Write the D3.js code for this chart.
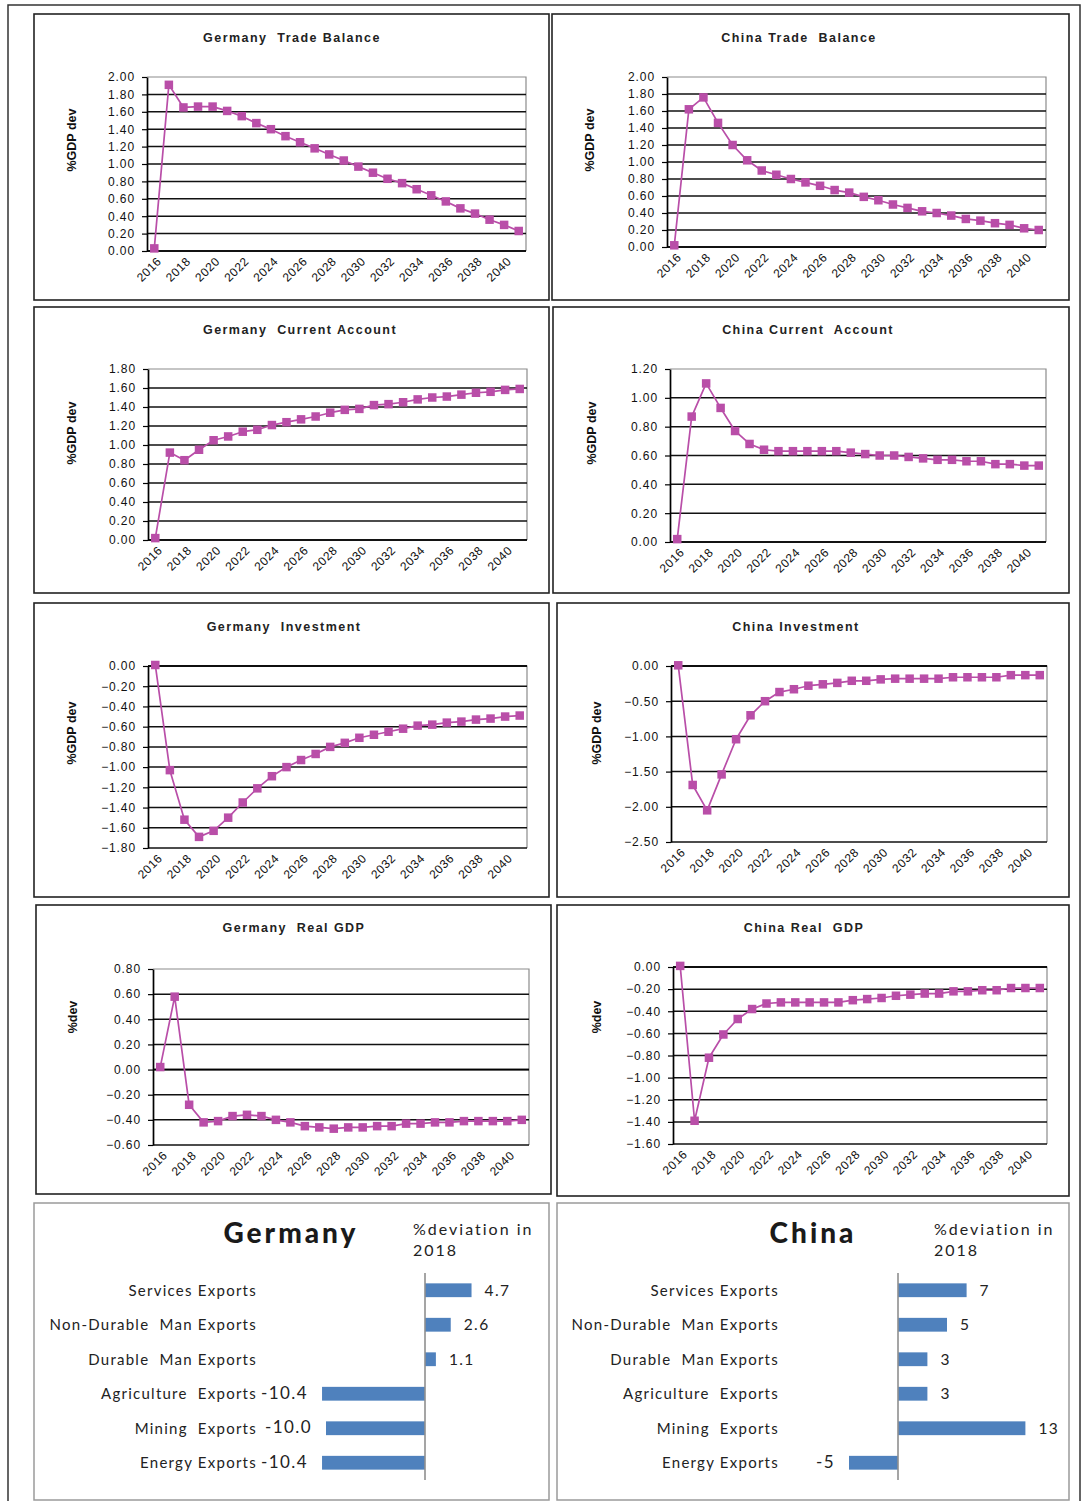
<!DOCTYPE html>
<html>
<head>
<meta charset="utf-8">
<script src="https://cdn.jsdelivr.net/npm/d3@7/dist/d3.min.js"></script>
<style>
  body { margin: 0; background: #fff; }
  svg { display: block; }
</style>
</head>
<body>
<svg id="fig" width="1083" height="1501"></svg>
<script>
// ---- categories ----
const years = [2016, 2017, 2018, 2019, 2020, 2021, 2022, 2023, 2024, 2025, 2026, 2027, 2028,
               2029, 2030, 2031, 2032, 2033, 2034, 2035, 2036, 2037, 2038, 2039, 2040, 2041];
const yearLabels = [2016, 2018, 2020, 2022, 2024, 2026, 2028, 2030, 2032, 2034, 2036, 2038, 2040];

// ---- series (deviation from baseline) ----
const deTradeBalance = [0.03, 1.91, 1.65, 1.66, 1.66, 1.61, 1.55, 1.47, 1.40, 1.32, 1.25, 1.18, 1.11,
                        1.04, 0.97, 0.90, 0.83, 0.78, 0.71, 0.64, 0.57, 0.49, 0.43, 0.36, 0.30, 0.23];
const cnTradeBalance = [0.02, 1.62, 1.76, 1.46, 1.20, 1.02, 0.90, 0.85, 0.80, 0.76, 0.72, 0.67, 0.64,
                        0.59, 0.55, 0.50, 0.46, 0.42, 0.40, 0.37, 0.33, 0.31, 0.28, 0.26, 0.22, 0.20];
const deCurrentAccount = [0.02, 0.92, 0.84, 0.95, 1.05, 1.09, 1.14, 1.16, 1.21, 1.24, 1.27, 1.30, 1.34,
                          1.37, 1.38, 1.42, 1.43, 1.45, 1.48, 1.50, 1.51, 1.53, 1.55, 1.56, 1.58, 1.59];
const cnCurrentAccount = [0.02, 0.87, 1.10, 0.93, 0.77, 0.68, 0.64, 0.63, 0.63, 0.63, 0.63, 0.63, 0.62,
                          0.61, 0.60, 0.60, 0.59, 0.58, 0.57, 0.57, 0.56, 0.56, 0.54, 0.54, 0.53, 0.53];
const deInvestment = [0.01, -1.03, -1.52, -1.69, -1.63, -1.50, -1.35, -1.21, -1.09, -1.00, -0.93, -0.87, -0.80,
                      -0.76, -0.71, -0.68, -0.65, -0.62, -0.59, -0.58, -0.56, -0.55, -0.53, -0.52, -0.50, -0.49];
const cnInvestment = [0.01, -1.69, -2.05, -1.54, -1.04, -0.70, -0.50, -0.37, -0.33, -0.28, -0.26, -0.24, -0.21,
                      -0.21, -0.19, -0.18, -0.18, -0.18, -0.18, -0.16, -0.16, -0.16, -0.16, -0.13, -0.13, -0.13];
const deRealGDP = [0.02, 0.58, -0.28, -0.42, -0.41, -0.37, -0.36, -0.37, -0.40, -0.42, -0.45, -0.46, -0.47,
                   -0.46, -0.46, -0.45, -0.45, -0.43, -0.43, -0.42, -0.42, -0.41, -0.41, -0.41, -0.41, -0.40];
const cnRealGDP = [0.01, -1.39, -0.82, -0.61, -0.47, -0.38, -0.33, -0.32, -0.32, -0.32, -0.32, -0.32, -0.30,
                   -0.29, -0.28, -0.26, -0.25, -0.24, -0.24, -0.22, -0.22, -0.21, -0.21, -0.19, -0.19, -0.19];

// ---- y tick values ----
const ticksTB = [0, 0.2, 0.4, 0.6, 0.8, 1.0, 1.2, 1.4, 1.6, 1.8, 2.0];
const ticksDeCA = [0, 0.2, 0.4, 0.6, 0.8, 1.0, 1.2, 1.4, 1.6, 1.8];
const ticksCnCA = [0, 0.2, 0.4, 0.6, 0.8, 1.0, 1.2];
const ticksDeInv = [-1.8, -1.6, -1.4, -1.2, -1.0, -0.8, -0.6, -0.4, -0.2, 0];
const ticksCnInv = [-2.5, -2.0, -1.5, -1.0, -0.5, 0];
const ticksDeGDP = [-0.6, -0.4, -0.2, 0, 0.2, 0.4, 0.6, 0.8];
const ticksCnGDP = [-1.6, -1.4, -1.2, -1.0, -0.8, -0.6, -0.4, -0.2, 0];

// ---- 2018 export deviations ----
const exportCategories = ["Services Exports", "Non-Durable  Man Exports", "Durable  Man Exports",
                          "Agriculture  Exports", "Mining  Exports", "Energy Exports"];
const deExports2018 = [4.7, 2.6, 1.1, -10.4, -10.0, -10.4];
const cnExports2018 = [7, 5, 3, 3, 13, -5];
const deExportLabels = ["4.7", "2.6", "1.1", "-10.4", "-10.0", "-10.4"];
const cnExportLabels = ["7", "5", "3", "3", "13", "-5"];

// ---- styling ----
const LINE_COLOR = "#b94ea8";
const BAR_COLOR = "#4f81bd";
const SANS = "'Liberation Sans', Arial, sans-serif";
const BAR_FONT = "Lato, 'Open Sans', sans-serif";

const svg = d3.select("#fig");

// outer frame
svg.append("path")
  .attr("d", "M8,1510 V5 H1080 V1510")
  .attr("fill", "none").attr("stroke", "#333").attr("stroke-width", 1.5);

const lineCharts = [
  { title: "Germany  Trade Balance", ylab: "%GDP dev", values: deTradeBalance, ticks: ticksTB,
    box: [34, 14, 549, 300], plot: [147, 77, 526, 251], titleX: 292, titleY: 42, ylabPos: [72, 140] },
  { title: "China Trade  Balance", ylab: "%GDP dev", values: cnTradeBalance, ticks: ticksTB,
    box: [552, 14, 1069, 300], plot: [667, 77, 1046, 247], titleX: 799, titleY: 42, ylabPos: [590, 140] },
  { title: "Germany  Current Account", ylab: "%GDP dev", values: deCurrentAccount, ticks: ticksDeCA,
    box: [34, 307, 549, 593], plot: [148, 369, 527, 540], titleX: 300, titleY: 334, ylabPos: [72, 433] },
  { title: "China Current  Account", ylab: "%GDP dev", values: cnCurrentAccount, ticks: ticksCnCA,
    box: [553, 307, 1069, 593], plot: [670, 369, 1046, 542], titleX: 808, titleY: 334, ylabPos: [592, 433] },
  { title: "Germany  Investment", ylab: "%GDP dev", values: deInvestment, ticks: ticksDeInv,
    box: [34, 603, 549, 897], plot: [148, 666, 527, 848], titleX: 284, titleY: 631, ylabPos: [72, 733] },
  { title: "China Investment", ylab: "%GDP dev", values: cnInvestment, ticks: ticksCnInv,
    box: [557, 603, 1069, 897], plot: [671, 666, 1047, 842], titleX: 796, titleY: 631, ylabPos: [597, 733] },
  { title: "Germany  Real GDP", ylab: "%dev", values: deRealGDP, ticks: ticksDeGDP,
    box: [36, 905, 551, 1194], plot: [153, 969, 529, 1145], titleX: 294, titleY: 932, ylabPos: [73, 1017] },
  { title: "China Real  GDP", ylab: "%dev", values: cnRealGDP, ticks: ticksCnGDP,
    box: [557, 905, 1069, 1196], plot: [673, 967, 1047, 1144], titleX: 804, titleY: 932, ylabPos: [597, 1017] }
];

function drawLineChart(cfg) {
  const g = svg.append("g");
  const [bx0, by0, bx1, by1] = cfg.box;
  g.append("rect")
    .attr("x", bx0).attr("y", by0).attr("width", bx1 - bx0).attr("height", by1 - by0)
    .attr("fill", "#fff").attr("stroke", "#222").attr("stroke-width", 1.6);

  const [x0, y0, x1, y1] = cfg.plot;
  const x = d3.scaleBand().domain(years).range([x0, x1]);
  const yMin = d3.min(cfg.ticks), yMax = d3.max(cfg.ticks);
  const y = d3.scaleLinear().domain([yMin, yMax]).range([y1, y0]);

  // plot-area frame (top / right)
  g.append("path")
    .attr("d", `M${x0},${y0} H${x1} V${y1}`)
    .attr("fill", "none").attr("stroke", "#8c8c8c").attr("stroke-width", 1.2);

  // horizontal gridlines
  g.selectAll("line.grid")
    .data(cfg.ticks.filter(t => t !== yMax || t === 0))
    .join("line")
    .attr("x1", x0).attr("x2", x1)
    .attr("y1", d => y(d)).attr("y2", d => y(d))
    .attr("stroke", "#111").attr("stroke-width", 1.5);

  // category axis line at zero
  g.append("line")
    .attr("x1", x0).attr("x2", x1).attr("y1", y(0)).attr("y2", y(0))
    .attr("stroke", "#000").attr("stroke-width", 1.7);

  // value axis
  const yAxis = d3.axisLeft(y)
    .tickValues(cfg.ticks)
    .tickFormat(d3.format(".2f"))
    .tickSize(5).tickSizeOuter(0).tickPadding(7);
  const ya = g.append("g").attr("transform", `translate(${x0},0)`).call(yAxis);
  ya.select(".domain").attr("stroke", "#000").attr("stroke-width", 1.7);
  ya.selectAll(".tick line").attr("stroke", "#000").attr("stroke-width", 1.2);
  ya.selectAll(".tick text")
    .attr("font-family", SANS).attr("font-size", 12).attr("letter-spacing", 0.9).attr("fill", "#111");

  // year labels along the bottom, rotated
  g.selectAll("text.year")
    .data(yearLabels)
    .join("text")
    .attr("transform", d => `translate(${x(d) + x.bandwidth() / 2 + 5},${y1 + 8}) rotate(-45)`)
    .attr("text-anchor", "end").attr("dy", "0.35em")
    .attr("font-family", SANS).attr("font-size", 12).attr("letter-spacing", 0.6).attr("fill", "#111")
    .text(d => d);

  // title
  g.append("text")
    .attr("x", cfg.titleX).attr("y", cfg.titleY).attr("text-anchor", "middle")
    .attr("font-family", SANS).attr("font-weight", "bold").attr("font-size", 12.5)
    .attr("letter-spacing", 1.45).attr("fill", "#222").attr("xml:space", "preserve")
    .text(cfg.title);

  // y-axis title
  g.append("text")
    .attr("transform", `translate(${cfg.ylabPos[0]},${cfg.ylabPos[1]}) rotate(-90)`)
    .attr("text-anchor", "middle").attr("dy", "0.35em")
    .attr("font-family", SANS).attr("font-weight", "bold").attr("font-size", 12.5)
    .attr("fill", "#111")
    .text(cfg.ylab);

  // series
  const pts = years.map((yr, i) => ({ yr, v: cfg.values[i] }));
  const line = d3.line()
    .x(d => x(d.yr) + x.bandwidth() / 2)
    .y(d => y(d.v));
  g.append("path").datum(pts)
    .attr("d", line).attr("fill", "none")
    .attr("stroke", LINE_COLOR).attr("stroke-width", 1.7).attr("stroke-linejoin", "round");
  const m = 8.5;
  g.selectAll("rect.mk").data(pts).join("rect")
    .attr("x", d => x(d.yr) + x.bandwidth() / 2 - m / 2)
    .attr("y", d => y(d.v) - m / 2)
    .attr("width", m).attr("height", m)
    .attr("fill", LINE_COLOR);
}

lineCharts.forEach(drawLineChart);

// ---- export deviation bar panels ----
const barPanels = [
  { country: "Germany", values: deExports2018, labels: deExportLabels,
    box: [34, 1203, 549, 1500], titleX: 291, noteX: 413, catRight: 257, zeroX: 425, unit: 9.9 },
  { country: "China", values: cnExports2018, labels: cnExportLabels,
    box: [557, 1203, 1069, 1500], titleX: 813, noteX: 934, catRight: 779, zeroX: 898, unit: 9.8 }
];

function drawBarPanel(cfg) {
  const g = svg.append("g");
  const [bx0, by0, bx1, by1] = cfg.box;
  g.append("rect")
    .attr("x", bx0).attr("y", by0).attr("width", bx1 - bx0).attr("height", by1 - by0)
    .attr("fill", "#fff").attr("stroke", "#9a9a9a").attr("stroke-width", 1.5);

  g.append("text")
    .attr("x", cfg.titleX).attr("y", 1243).attr("text-anchor", "middle")
    .attr("font-family", BAR_FONT).attr("font-weight", 900).attr("font-size", 28)
    .attr("letter-spacing", 3).attr("fill", "#1a1a1a")
    .text(cfg.country);

  g.append("text")
    .attr("x", cfg.noteX).attr("y", 1235)
    .attr("font-family", BAR_FONT).attr("font-size", 16).attr("letter-spacing", 2).attr("fill", "#222")
    .text("%deviation in");
  g.append("text")
    .attr("x", cfg.noteX).attr("y", 1256)
    .attr("font-family", BAR_FONT).attr("font-size", 16).attr("letter-spacing", 2).attr("fill", "#222")
    .text("2018");

  const yb = d3.scaleBand().domain(exportCategories).range([1273, 1480]).paddingInner(0.6).paddingOuter(0.3);
  const x = d3.scaleLinear().domain([0, 1]).range([cfg.zeroX, cfg.zeroX + cfg.unit]);
  const rows = exportCategories.map((c, i) => ({ c, v: cfg.values[i], lab: cfg.labels[i] }));

  g.selectAll("rect.bar").data(rows).join("rect")
    .attr("x", d => Math.min(x(0), x(d.v)))
    .attr("y", d => yb(d.c))
    .attr("width", d => Math.abs(x(d.v) - x(0)))
    .attr("height", yb.bandwidth())
    .attr("fill", BAR_COLOR);

  // zero line
  g.append("line")
    .attr("x1", x(0)).attr("x2", x(0)).attr("y1", 1273).attr("y2", 1480)
    .attr("stroke", "#8f8f8f").attr("stroke-width", 1.6);

  // category names
  g.selectAll("text.cat").data(rows).join("text")
    .attr("x", cfg.catRight).attr("y", d => yb(d.c) + yb.bandwidth() / 2)
    .attr("dy", "0.36em").attr("text-anchor", "end")
    .attr("font-family", BAR_FONT).attr("font-size", 15).attr("letter-spacing", 1.25).attr("fill", "#222")
    .attr("xml:space", "preserve")
    .text(d => d.c);

  // value labels
  g.selectAll("text.val").data(rows).join("text")
    .attr("x", d => d.v >= 0 ? x(d.v) + 13 : x(d.v) - 14)
    .attr("y", d => yb(d.c) + yb.bandwidth() / 2)
    .attr("dy", d => d.v >= 0 ? "0.36em" : "0.3em")
    .attr("text-anchor", d => d.v >= 0 ? "start" : "end")
    .attr("font-family", BAR_FONT).attr("font-size", d => d.v >= 0 ? 15.5 : 17)
    .attr("letter-spacing", 1.4).attr("fill", "#222")
    .text(d => d.lab);
}

barPanels.forEach(drawBarPanel);
</script>
</body>
</html>
